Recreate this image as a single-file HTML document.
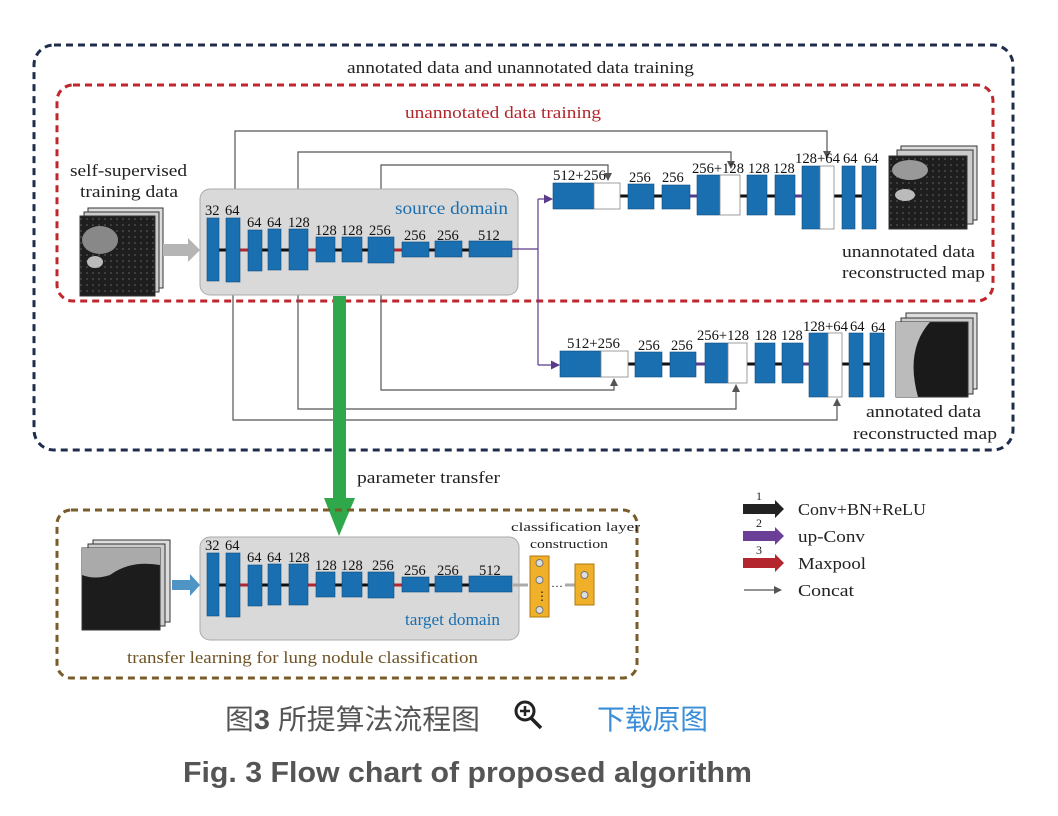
<!DOCTYPE html>
<html><head><meta charset="utf-8"><style>
html,body{margin:0;padding:0;background:#fff;width:1058px;height:816px;overflow:hidden}
svg{display:block}
.s{font-family:"Liberation Serif",serif;fill:#222}
.n{font-family:"Liberation Serif",serif;font-size:14.5px;fill:#111}
.b{fill:#1a6fb0;stroke:#0d4f82;stroke-width:0.6}
.w{fill:#fff;stroke:#888;stroke-width:0.8}
.c{fill:none;stroke:#555;stroke-width:1.2}
</style></head><body>
<svg width="1058" height="816" viewBox="0 0 1058 816" xmlns="http://www.w3.org/2000/svg">
<defs>
<marker id="ag" markerWidth="8" markerHeight="8" refX="7" refY="4" orient="auto" markerUnits="userSpaceOnUse"><path d="M0,0 L8,4 L0,8 z" fill="#555"/></marker>
<marker id="ap" markerWidth="9" markerHeight="9" refX="8" refY="4.5" orient="auto" markerUnits="userSpaceOnUse"><path d="M0,0 L9,4.5 L0,9 z" fill="#5b3a8c"/></marker>
<pattern id="ct" width="6" height="6" patternUnits="userSpaceOnUse"><rect width="6" height="6" fill="#1e1e1e"/><circle cx="3" cy="3" r="0.8" fill="#666"/></pattern>
</defs>

<rect x="34" y="45" width="979" height="405" rx="20" fill="none" stroke="#1f2d4d" stroke-width="3" stroke-dasharray="7,5"/>
<text x="347" y="73" class="s" font-size="17" textLength="347" lengthAdjust="spacingAndGlyphs" fill="#444">annotated data and unannotated data training</text>
<rect x="57" y="85" width="936" height="216" rx="16" fill="none" stroke="#c0272d" stroke-width="3" stroke-dasharray="7,5"/>
<text x="405" y="118" class="s" font-size="17" textLength="196" lengthAdjust="spacingAndGlyphs" style="fill:#b3262d">unannotated data training</text>

<path class="c" d="M235,218 V131 H827 V158" marker-end="url(#ag)"/>
<path class="c" d="M298,229 V152 H731 V168" marker-end="url(#ag)"/>
<path class="c" d="M381,237 V165 H608 V180" marker-end="url(#ag)"/>
<path class="c" d="M381,263 V390 H614 V379" marker-end="url(#ag)"/>
<path class="c" d="M298,270 V409 H736 V385" marker-end="url(#ag)"/>
<path class="c" d="M233,282 V420 H837 V399" marker-end="url(#ag)"/>

<rect x="200" y="189" width="318" height="106" rx="10" fill="#d9d9d9" stroke="#aaa" stroke-width="1"/>
<text x="395" y="214" class="s" font-size="18" textLength="113" lengthAdjust="spacingAndGlyphs" style="fill:#1a6fb0">source domain</text>

<text x="70" y="176" class="s" font-size="17" textLength="117" lengthAdjust="spacingAndGlyphs">self-supervised</text>
<text x="80" y="197" class="s" font-size="17" textLength="98" lengthAdjust="spacingAndGlyphs">training data</text>
<g>
<rect x="88" y="208" width="75" height="80" fill="#ddd" stroke="#333"/>
<rect x="84" y="212" width="75" height="80" fill="#ccc" stroke="#333"/>
<rect x="80" y="216" width="75" height="80" fill="url(#ct)" stroke="#333"/>
<ellipse cx="100" cy="240" rx="18" ry="14" fill="#888"/>
<ellipse cx="95" cy="262" rx="8" ry="6" fill="#bbb"/>
</g>
<path d="M163,244 H188 V238 L200,250 L188,262 V256 H163 z" fill="#b5b5b5"/>

<line x1="212" y1="250" x2="512" y2="250" stroke="#111" stroke-width="3"/>
<line x1="240" y1="250" x2="248" y2="250" stroke="#b3262d" stroke-width="3"/>
<line x1="308" y1="250" x2="316" y2="250" stroke="#b3262d" stroke-width="3"/>
<line x1="394" y1="250" x2="402" y2="250" stroke="#b3262d" stroke-width="3"/>
<rect class="b" x="207" y="218" width="12" height="63"/>
<rect class="b" x="226" y="218" width="14" height="64"/>
<rect class="b" x="248" y="230" width="14" height="41"/>
<rect class="b" x="268" y="229" width="13" height="41"/>
<rect class="b" x="289" y="229" width="19" height="41"/>
<rect class="b" x="316" y="237" width="19" height="25"/>
<rect class="b" x="342" y="237" width="20" height="25"/>
<rect class="b" x="368" y="237" width="26" height="26"/>
<rect class="b" x="402" y="242" width="27" height="15"/>
<rect class="b" x="435" y="241" width="27" height="16"/>
<rect class="b" x="469" y="241" width="43" height="16"/>
<g class="n">
<text x="205" y="215">32</text><text x="225" y="215">64</text>
<text x="247" y="227">64</text><text x="267" y="227">64</text><text x="288" y="227">128</text>
<text x="315" y="235">128</text><text x="341" y="235">128</text><text x="369" y="235">256</text>
<text x="404" y="240">256</text><text x="437" y="240">256</text><text x="478" y="240">512</text>
</g>

<path d="M512,249 H538 M538,199 V365" fill="none" stroke="#5b3a8c" stroke-width="1.2"/>
<path d="M538,199 H552" stroke="#5b3a8c" stroke-width="1.2" marker-end="url(#ap)"/>
<path d="M538,365 H559" stroke="#5b3a8c" stroke-width="1.2" marker-end="url(#ap)"/>

<line x1="620" y1="196" x2="862" y2="196" stroke="#111" stroke-width="3"/>
<line x1="690" y1="196" x2="697" y2="196" stroke="#5b3a8c" stroke-width="3"/>
<line x1="795" y1="196" x2="802" y2="196" stroke="#5b3a8c" stroke-width="3"/>
<rect class="b" x="553" y="183" width="41" height="26"/><rect class="w" x="594" y="183" width="26" height="26"/>
<rect class="b" x="628" y="184" width="26" height="25"/>
<rect class="b" x="662" y="185" width="28" height="24"/>
<rect class="b" x="697" y="175" width="23" height="40"/><rect class="w" x="720" y="175" width="20" height="40"/>
<rect class="b" x="747" y="175" width="20" height="40"/>
<rect class="b" x="775" y="175" width="20" height="40"/>
<rect class="b" x="802" y="166" width="18" height="63"/><rect class="w" x="820" y="166" width="14" height="63"/>
<rect class="b" x="842" y="166" width="13" height="63"/>
<rect class="b" x="862" y="166" width="14" height="63"/>
<g class="n">
<text x="553" y="180" textLength="53" lengthAdjust="spacingAndGlyphs">512+256</text><text x="629" y="182">256</text><text x="662" y="182">256</text>
<text x="692" y="173" textLength="52" lengthAdjust="spacingAndGlyphs">256+128</text><text x="748" y="173">128</text><text x="773" y="173">128</text>
<text x="795" y="163" textLength="45" lengthAdjust="spacingAndGlyphs">128+64</text><text x="843" y="163">64</text><text x="864" y="163">64</text>
</g>
<g>
<rect x="901" y="146" width="76" height="74" fill="#ddd" stroke="#333"/>
<rect x="897" y="150" width="76" height="74" fill="#ccc" stroke="#333"/>
<rect x="889" y="156" width="78" height="73" fill="url(#ct)" stroke="#333"/>
<ellipse cx="910" cy="170" rx="18" ry="10" fill="#999"/>
<ellipse cx="905" cy="195" rx="10" ry="6" fill="#bbb"/>
</g>
<text x="842" y="257" class="s" font-size="17" textLength="133" lengthAdjust="spacingAndGlyphs">unannotated data</text>
<text x="842" y="278" class="s" font-size="17" textLength="143" lengthAdjust="spacingAndGlyphs">reconstructed map</text>

<line x1="628" y1="364" x2="870" y2="364" stroke="#111" stroke-width="3"/>
<line x1="696" y1="364" x2="705" y2="364" stroke="#5b3a8c" stroke-width="3"/>
<line x1="803" y1="364" x2="809" y2="364" stroke="#5b3a8c" stroke-width="3"/>
<rect class="b" x="560" y="351" width="41" height="26"/><rect class="w" x="601" y="351" width="27" height="26"/>
<rect class="b" x="635" y="352" width="27" height="25"/>
<rect class="b" x="670" y="352" width="26" height="25"/>
<rect class="b" x="705" y="343" width="23" height="40"/><rect class="w" x="728" y="343" width="19" height="40"/>
<rect class="b" x="755" y="343" width="20" height="40"/>
<rect class="b" x="782" y="343" width="21" height="40"/>
<rect class="b" x="809" y="333" width="19" height="64"/><rect class="w" x="828" y="333" width="14" height="64"/>
<rect class="b" x="849" y="333" width="14" height="64"/>
<rect class="b" x="870" y="333" width="14" height="64"/>
<g class="n">
<text x="567" y="348" textLength="53" lengthAdjust="spacingAndGlyphs">512+256</text><text x="638" y="350">256</text><text x="671" y="350">256</text>
<text x="697" y="340" textLength="52" lengthAdjust="spacingAndGlyphs">256+128</text><text x="755" y="340">128</text><text x="781" y="340">128</text>
<text x="803" y="331" textLength="45" lengthAdjust="spacingAndGlyphs">128+64</text><text x="850" y="331">64</text><text x="871" y="332">64</text>
</g>
<g>
<rect x="906" y="313" width="71" height="76" fill="#ddd" stroke="#333"/>
<rect x="901" y="318" width="72" height="76" fill="#ccc" stroke="#333"/>
<rect x="896" y="322" width="72" height="75" fill="#1a1a1a" stroke="#333"/>
<path d="M896,322 H930 Q905,350 918,397 H896 z" fill="#bbb"/>
</g>
<text x="866" y="417" class="s" font-size="17" textLength="115" lengthAdjust="spacingAndGlyphs">annotated data</text>
<text x="853" y="439" class="s" font-size="17" textLength="144" lengthAdjust="spacingAndGlyphs">reconstructed map</text>

<rect x="333" y="296" width="13" height="203" fill="#2ea84a"/>
<path d="M324,498 L355,498 L339,536 z" fill="#2ea84a"/>
<text x="357" y="483" class="s" font-size="17" textLength="143" lengthAdjust="spacingAndGlyphs">parameter transfer</text>

<rect x="57" y="510" width="580" height="168" rx="14" fill="none" stroke="#7a5c2a" stroke-width="3" stroke-dasharray="7,5"/>
<text x="127" y="663" class="s" font-size="17" textLength="351" lengthAdjust="spacingAndGlyphs" style="fill:#6e5426">transfer learning for lung nodule classification</text>
<g>
<rect x="93" y="540" width="77" height="82" fill="#ddd" stroke="#333"/>
<rect x="88" y="544" width="77" height="82" fill="#ccc" stroke="#333"/>
<rect x="82" y="548" width="78" height="82" fill="#1c1c1c" stroke="#333"/>
<path d="M82,548 H160 V565 Q130,560 110,575 Q95,580 82,575 z" fill="#aaa"/>
</g>
<path d="M172,580 H190 V574 L200,585 L190,596 V590 H172 z" fill="#4e95c6"/>
<rect x="200" y="537" width="319" height="103" rx="10" fill="#d9d9d9" stroke="#aaa"/>
<text x="405" y="625" class="s" font-size="17" textLength="95" lengthAdjust="spacingAndGlyphs" style="fill:#1a6fb0">target domain</text>
<line x1="212" y1="585" x2="512" y2="585" stroke="#111" stroke-width="3"/>
<line x1="240" y1="585" x2="248" y2="585" stroke="#b3262d" stroke-width="3"/>
<line x1="308" y1="585" x2="316" y2="585" stroke="#b3262d" stroke-width="3"/>
<line x1="394" y1="585" x2="402" y2="585" stroke="#b3262d" stroke-width="3"/>
<rect class="b" x="207" y="553" width="12" height="63"/>
<rect class="b" x="226" y="553" width="14" height="64"/>
<rect class="b" x="248" y="565" width="14" height="41"/>
<rect class="b" x="268" y="564" width="13" height="41"/>
<rect class="b" x="289" y="564" width="19" height="41"/>
<rect class="b" x="316" y="572" width="19" height="25"/>
<rect class="b" x="342" y="572" width="20" height="25"/>
<rect class="b" x="368" y="572" width="26" height="26"/>
<rect class="b" x="402" y="577" width="27" height="15"/>
<rect class="b" x="435" y="576" width="27" height="16"/>
<rect class="b" x="469" y="576" width="43" height="16"/>
<g class="n">
<text x="205" y="550">32</text><text x="225" y="550">64</text>
<text x="247" y="562">64</text><text x="267" y="562">64</text><text x="288" y="562">128</text>
<text x="315" y="570">128</text><text x="341" y="570">128</text><text x="372" y="570">256</text>
<text x="404" y="575">256</text><text x="437" y="575">256</text><text x="479" y="575">512</text>
</g>
<line x1="512" y1="585" x2="528" y2="585" stroke="#aaa" stroke-width="3"/>
<text x="511" y="531" class="s" font-size="13" textLength="129" lengthAdjust="spacingAndGlyphs">classification layer</text>
<text x="530" y="548" class="s" font-size="13" textLength="78" lengthAdjust="spacingAndGlyphs">construction</text>
<rect x="530" y="556" width="19" height="61" fill="#f0b02a" stroke="#b07a10"/>
<circle cx="539.5" cy="563" r="3.5" fill="#ddd" stroke="#777"/>
<circle cx="539.5" cy="580" r="3.5" fill="#ddd" stroke="#777"/>
<circle cx="539.5" cy="610" r="3.5" fill="#ddd" stroke="#777"/>
<text x="536" y="600" font-size="12" fill="#111">⋮</text>
<text x="551" y="590" font-size="12" fill="#111">···</text>
<line x1="565" y1="585" x2="575" y2="585" stroke="#aaa" stroke-width="3"/>
<rect x="575" y="564" width="19" height="41" fill="#f0b02a" stroke="#b07a10"/>
<circle cx="584.5" cy="575" r="3.5" fill="#ddd" stroke="#777"/>
<circle cx="584.5" cy="595" r="3.5" fill="#ddd" stroke="#777"/>

<g class="s" font-size="17">
<path d="M743,504 H775 V500 L784,509 L775,518 V514 H743 z" fill="#222"/>
<text x="759" y="500" font-size="12" text-anchor="middle">1</text>
<text x="798" y="515" textLength="128" lengthAdjust="spacingAndGlyphs">Conv+BN+ReLU</text>
<path d="M743,531 H775 V527 L784,536 L775,545 V541 H743 z" fill="#6b3e97"/>
<text x="759" y="527" font-size="12" text-anchor="middle">2</text>
<text x="798" y="542" textLength="67" lengthAdjust="spacingAndGlyphs">up-Conv</text>
<path d="M743,558 H775 V554 L784,563 L775,572 V568 H743 z" fill="#b3262d"/>
<text x="759" y="554" font-size="12" text-anchor="middle">3</text>
<text x="798" y="569" textLength="68" lengthAdjust="spacingAndGlyphs">Maxpool</text>
<path d="M744,590 H781" stroke="#555" stroke-width="1.2" marker-end="url(#ag)"/>
<text x="798" y="596" textLength="56" lengthAdjust="spacingAndGlyphs">Concat</text>
</g>

<text x="225" y="729" font-family="'Liberation Sans','Noto Sans CJK SC',sans-serif" font-size="28" fill="#555" textLength="255" lengthAdjust="spacingAndGlyphs">图<tspan font-weight="bold">3</tspan> 所提算法流程图</text>
<circle cx="525" cy="711" r="9" fill="none" stroke="#222" stroke-width="3"/>
<path d="M520,711 H530 M525,706 V716" stroke="#222" stroke-width="2.5"/>
<line x1="531" y1="718" x2="541" y2="728" stroke="#222" stroke-width="3.5"/>
<text x="597" y="729" font-family="'Liberation Sans','Noto Sans CJK SC',sans-serif" font-size="28" fill="#3a8dd6" textLength="111" lengthAdjust="spacingAndGlyphs">下载原图</text>
<text x="183" y="782" font-family="'Liberation Sans',sans-serif" font-size="29" font-weight="bold" fill="#555" textLength="569" lengthAdjust="spacingAndGlyphs">Fig. 3 Flow chart of proposed algorithm</text>
</svg>
</body></html>
